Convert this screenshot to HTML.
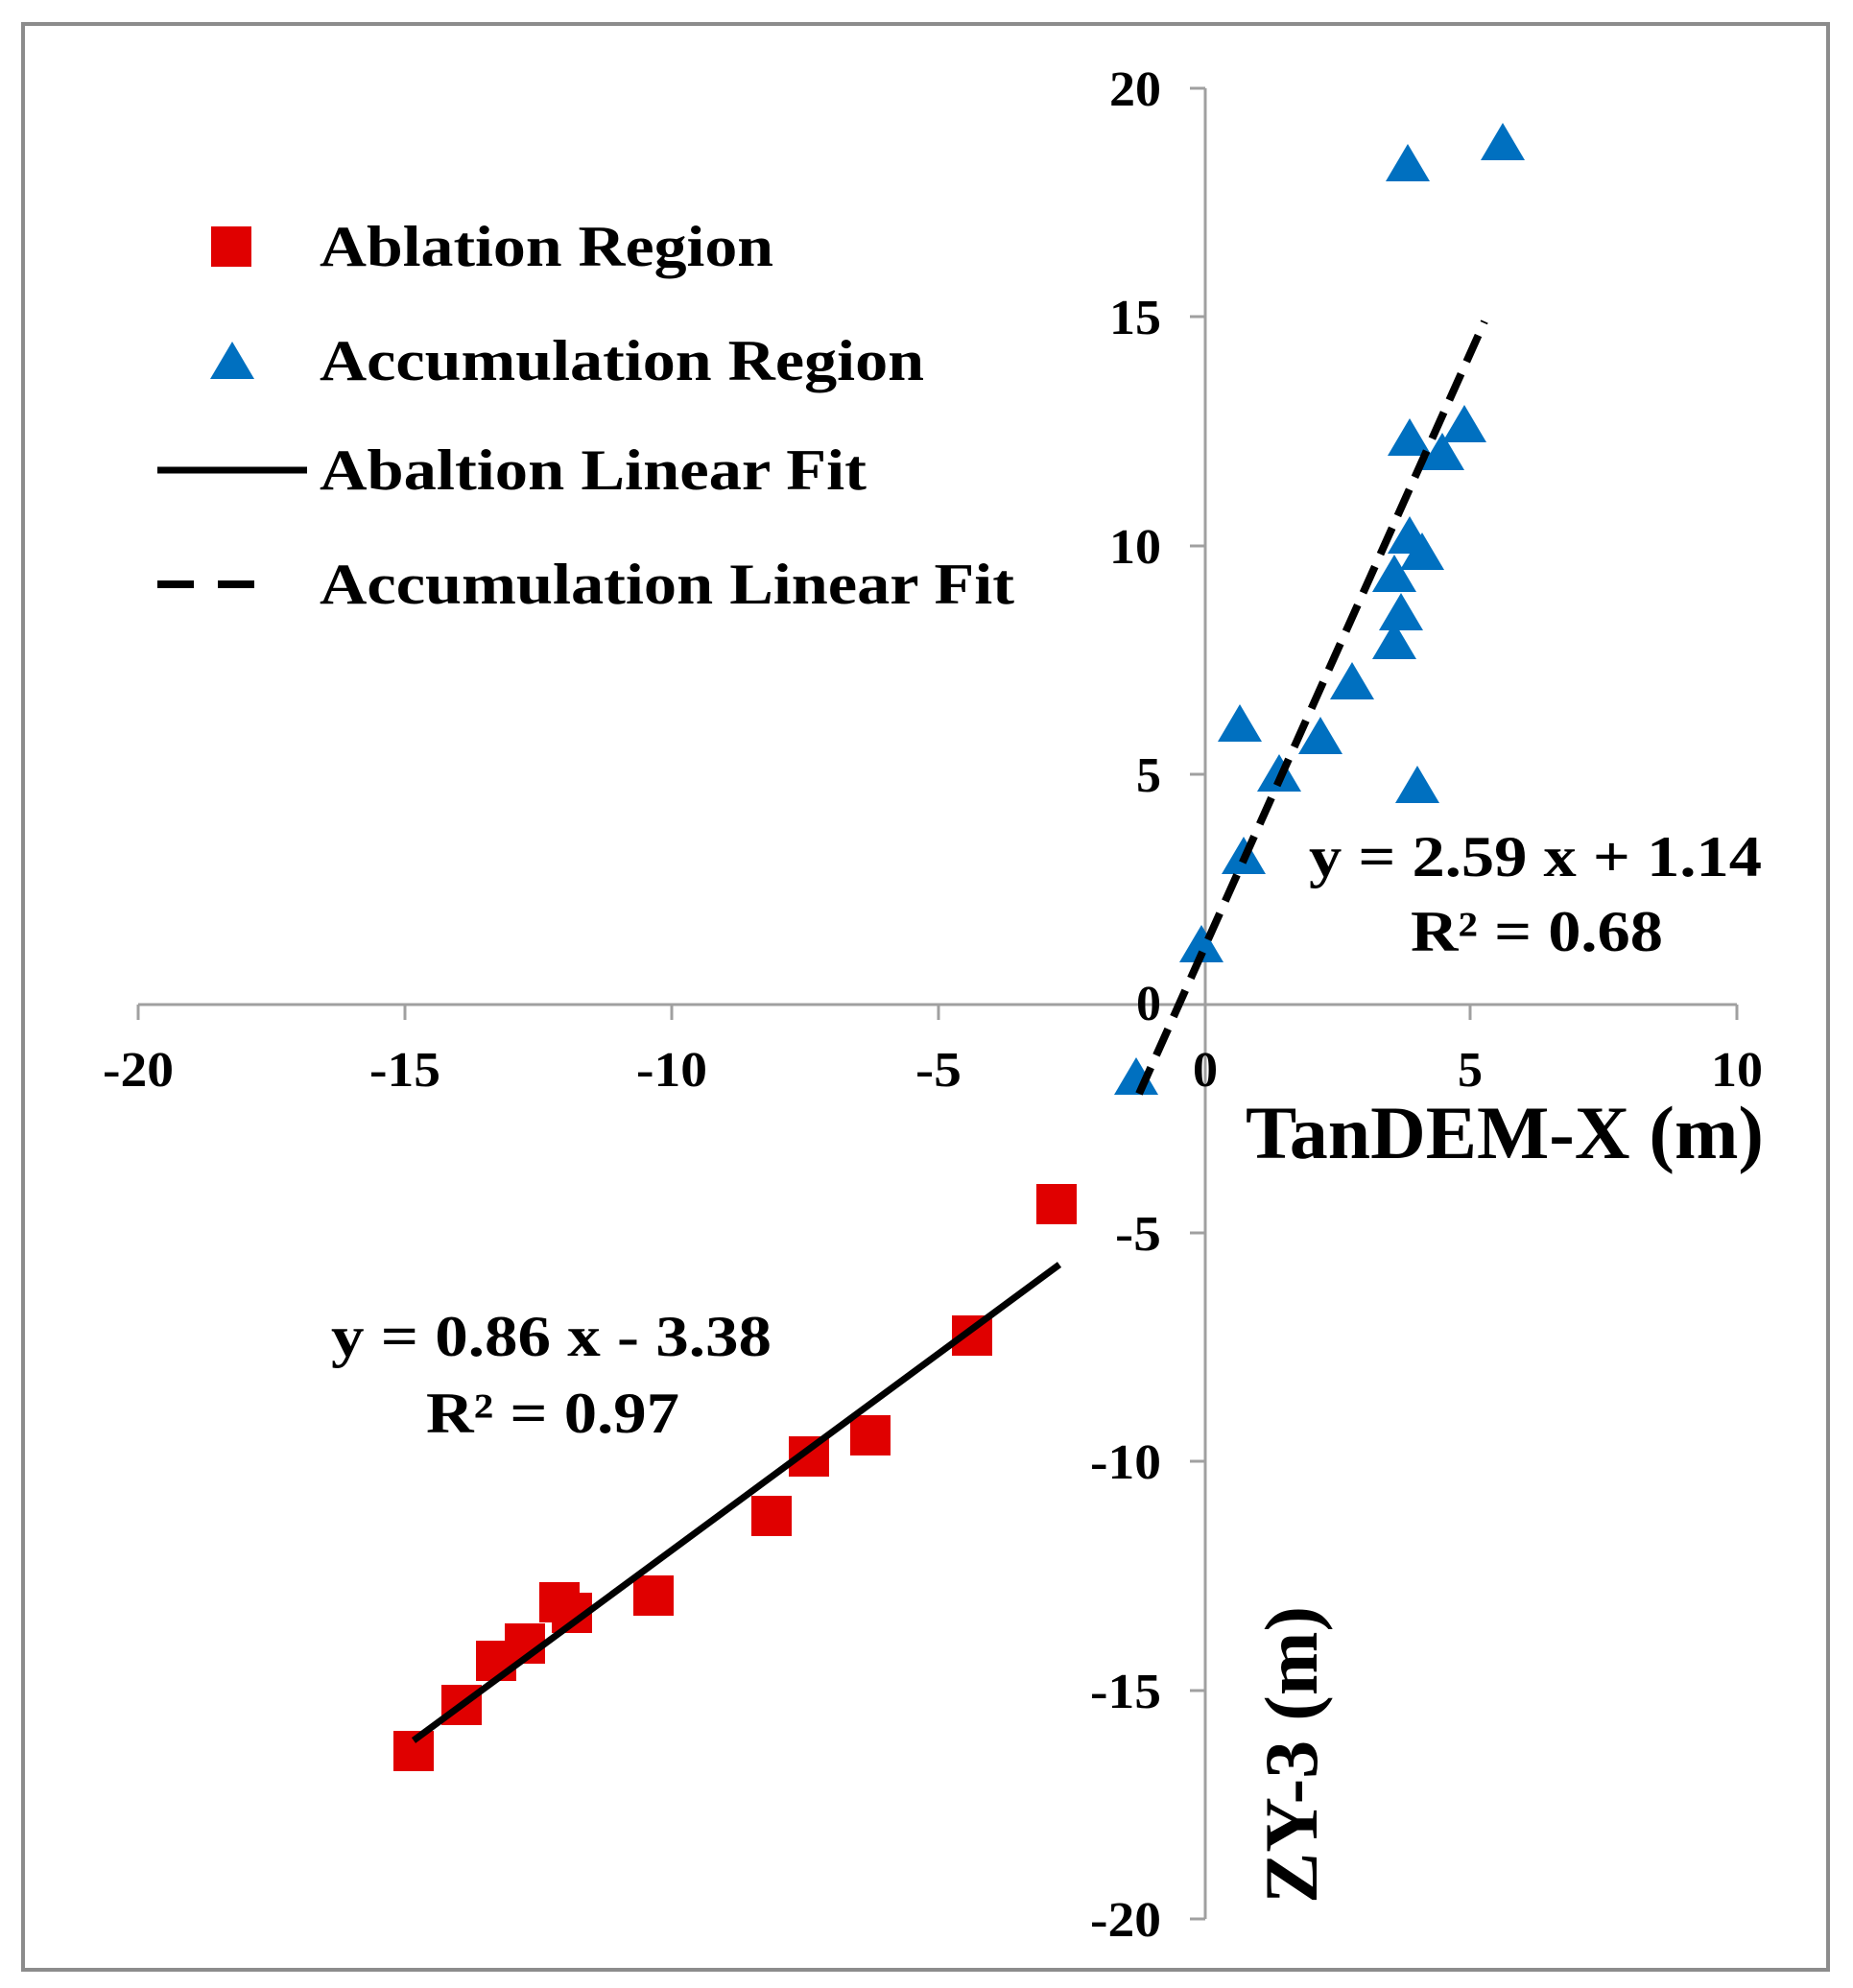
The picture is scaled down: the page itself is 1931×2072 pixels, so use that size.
<!DOCTYPE html><html><head><style>body{margin:0;background:#fff}svg{display:block}text{font-family:"Liberation Serif",serif;font-weight:bold;fill:#000}</style></head><body>
<svg width="1931" height="2072" viewBox="0 0 1931 2072" xmlns="http://www.w3.org/2000/svg">
<defs><path id="tr" d="M0,-22 L23,17 L-23,17 Z" fill="#0070c0"/></defs>
<rect x="24" y="25" width="1881" height="2028" fill="#fff" stroke="#8c8c8c" stroke-width="4"/>
<g stroke="#a0a0a0" stroke-width="3" fill="none">
<line x1="144" y1="1047" x2="1810" y2="1047"/>
<line x1="1256" y1="92" x2="1256" y2="2000"/>
<line x1="144" y1="1047" x2="144" y2="1063"/><line x1="422" y1="1047" x2="422" y2="1063"/><line x1="700" y1="1047" x2="700" y2="1063"/><line x1="978" y1="1047" x2="978" y2="1063"/><line x1="1532" y1="1047" x2="1532" y2="1063"/><line x1="1810" y1="1047" x2="1810" y2="1063"/>
<line x1="1240" y1="92" x2="1256" y2="92"/><line x1="1240" y1="330" x2="1256" y2="330"/><line x1="1240" y1="569" x2="1256" y2="569"/><line x1="1240" y1="807" x2="1256" y2="807"/><line x1="1240" y1="1285" x2="1256" y2="1285"/><line x1="1240" y1="1523" x2="1256" y2="1523"/><line x1="1240" y1="1762" x2="1256" y2="1762"/><line x1="1240" y1="2000" x2="1256" y2="2000"/>
</g>
<g font-size="52" text-anchor="middle">
<text x="144" y="1132" textLength="74" lengthAdjust="spacingAndGlyphs">-20</text><text x="422" y="1132" textLength="74" lengthAdjust="spacingAndGlyphs">-15</text><text x="700" y="1132" textLength="74" lengthAdjust="spacingAndGlyphs">-10</text><text x="978" y="1132" textLength="48" lengthAdjust="spacingAndGlyphs">-5</text><text x="1256" y="1132">0</text><text x="1532" y="1132">5</text><text x="1810" y="1132" textLength="54" lengthAdjust="spacingAndGlyphs">10</text>
</g>
<g font-size="52" text-anchor="end">
<text x="1210" y="110" textLength="54" lengthAdjust="spacingAndGlyphs">20</text><text x="1210" y="348" textLength="54" lengthAdjust="spacingAndGlyphs">15</text><text x="1210" y="587" textLength="54" lengthAdjust="spacingAndGlyphs">10</text><text x="1210" y="825">5</text><text x="1210" y="1063">0</text><text x="1210" y="1303" textLength="48" lengthAdjust="spacingAndGlyphs">-5</text><text x="1210" y="1541" textLength="74" lengthAdjust="spacingAndGlyphs">-10</text><text x="1210" y="1780" textLength="74" lengthAdjust="spacingAndGlyphs">-15</text><text x="1210" y="2018" textLength="74" lengthAdjust="spacingAndGlyphs">-20</text>
</g>
<text x="1298" y="1207" font-size="78" textLength="540" lengthAdjust="spacingAndGlyphs">TanDEM-X (m)</text>
<text transform="translate(1372,1984) rotate(-90)" font-size="78" textLength="310" lengthAdjust="spacingAndGlyphs">ZY-3 (m)</text>
<use href="#tr" x="1566" y="150"/><use href="#tr" x="1467" y="172"/><use href="#tr" x="1526" y="444"/><use href="#tr" x="1469" y="458"/><use href="#tr" x="1503" y="473"/><use href="#tr" x="1469" y="560"/><use href="#tr" x="1482" y="577"/><use href="#tr" x="1453" y="600"/><use href="#tr" x="1460" y="640"/><use href="#tr" x="1453" y="670"/><use href="#tr" x="1409" y="712"/><use href="#tr" x="1292" y="756"/><use href="#tr" x="1376" y="769"/><use href="#tr" x="1333" y="808"/><use href="#tr" x="1477" y="820"/><use href="#tr" x="1296" y="894"/><use href="#tr" x="1252" y="986"/><use href="#tr" x="1184" y="1124"/>
<g fill="#e00000">
<rect x="1080" y="1234" width="42" height="42"/>
<rect x="992" y="1371" width="42" height="42"/>
<rect x="886" y="1475" width="42" height="42"/>
<rect x="822" y="1497" width="42" height="42"/>
<rect x="783" y="1559" width="42" height="42"/>
<rect x="660" y="1642" width="42" height="42"/>
<rect x="562" y="1649" width="42" height="42"/>
<rect x="575" y="1660" width="42" height="42"/>
<rect x="526" y="1692" width="42" height="42"/>
<rect x="496" y="1710" width="42" height="42"/>
<rect x="460" y="1756" width="42" height="42"/>
<rect x="410" y="1804" width="42" height="42"/>
</g>
<line x1="431" y1="1814" x2="1104" y2="1318" stroke="#000" stroke-width="7"/>
<line x1="1187" y1="1140" x2="1547" y2="335" stroke="#000" stroke-width="8" stroke-dasharray="30,14"/>
<rect x="220" y="236" width="42" height="42" fill="#e00000"/>
<use href="#tr" x="242" y="378"/>
<line x1="164" y1="490" x2="320" y2="490" stroke="#000" stroke-width="7"/>
<line x1="164" y1="609" x2="290" y2="609" stroke="#000" stroke-width="8" stroke-dasharray="38,25"/>
<g font-size="60">
<text x="333" y="277" textLength="473" lengthAdjust="spacingAndGlyphs">Ablation Region</text>
<text x="333" y="396" textLength="630" lengthAdjust="spacingAndGlyphs">Accumulation Region</text>
<text x="333" y="510" textLength="570" lengthAdjust="spacingAndGlyphs">Abaltion Linear Fit</text>
<text x="333" y="629" textLength="724" lengthAdjust="spacingAndGlyphs">Accumulation Linear Fit</text>
<text x="1364" y="913" textLength="472" lengthAdjust="spacingAndGlyphs">y = 2.59 x + 1.14</text>
<text x="1470" y="991" textLength="263" lengthAdjust="spacingAndGlyphs">R² = 0.68</text>
<text x="345" y="1413" textLength="459" lengthAdjust="spacingAndGlyphs">y = 0.86 x - 3.38</text>
<text x="444" y="1493" textLength="264" lengthAdjust="spacingAndGlyphs">R² = 0.97</text>
</g>
</svg></body></html>
